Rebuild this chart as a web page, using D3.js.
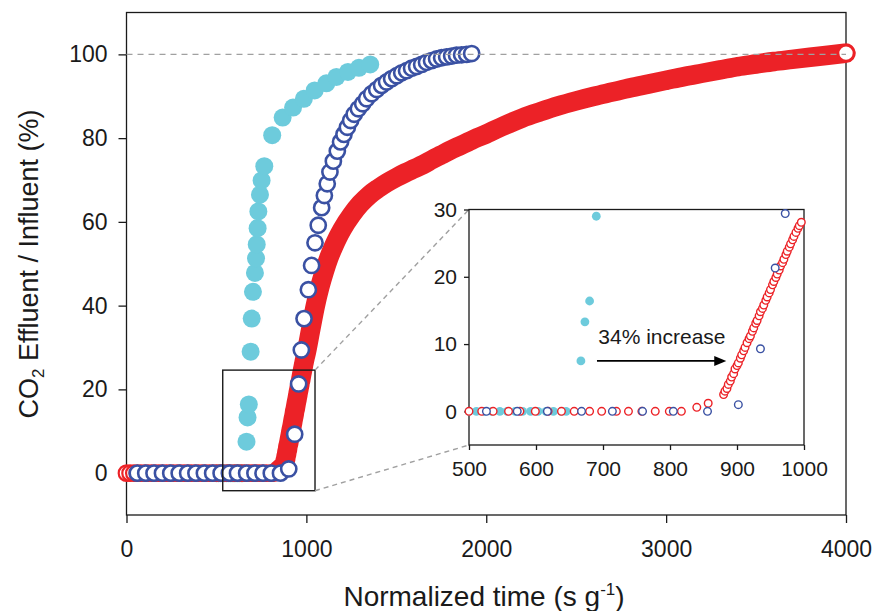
<!DOCTYPE html>
<html>
<head>
<meta charset="utf-8">
<script src="https://cdn.jsdelivr.net/npm/d3@7"></script>
<style>
  body { margin: 0; background: #fff; }
</style>
</head>
<body>
<svg id="chart" width="875" height="611"></svg>
<script>
// CO2 breakthrough curves
// x = normalized time (s g-1), y = effluent / influent (%)
var cyanX = [500, 511, 523, 534, 546, 557, 569, 580, 592, 603, 615, 626, 638, 645,
             667, 673, 680, 690, 696, 703, 714, 720, 724, 729, 733, 742, 751, 766,
             810, 868, 926, 986, 1046, 1111, 1167, 1231, 1292, 1355];
var cyanY = [0, 0, 0, 0, 0, 0, 0, 0, 0, 0, 0, 0, 0, 0,
             7.5, 13.3, 16.4, 29.0, 36.9, 43.3, 47.8, 51.3, 54.6, 58.5, 62.5, 66.5, 69.9, 73.3,
             80.7, 84.9, 87.3, 89.4, 91.4, 93.1, 94.6, 95.8, 96.8, 97.6];

var blueX = [60, 107, 153, 200, 246, 293, 340, 386, 433, 479, 526, 572, 617, 668, 714, 759, 805, 856,
             902, 935, 957, 972, 987, 1011, 1029, 1048, 1066, 1085, 1100, 1116, 1131, 1150, 1172, 1190,
             1209, 1228, 1246, 1266, 1289, 1313, 1335, 1363, 1391, 1418, 1446, 1474, 1502, 1530, 1557,
             1585, 1613, 1641, 1668, 1696, 1724, 1752, 1780, 1808, 1835, 1863, 1891, 1919];
var blueY = [0, 0, 0, 0, 0, 0, 0, 0, 0, 0, 0, 0, 0, 0, 0, 0, 0, 0,
             1.0, 9.3, 21.3, 29.4, 36.9, 43.8, 49.6, 55.0, 59.2, 63.4, 66.3, 69.1, 71.9, 74.5, 76.9, 79.1,
             80.9, 82.6, 84.2, 85.7, 87.0, 88.2, 89.4, 90.6, 91.6, 92.6, 93.4, 94.2, 94.9, 95.6, 96.1,
             96.7, 97.1, 97.6, 98.1, 98.5, 98.9, 99.2, 99.4, 99.6, 99.8, 99.9, 100.0, 100.2];

var redX = [0, 20, 41, 60, 80, 101, 120, 140, 161, 180, 200, 221, 240, 260, 281, 300, 320, 341, 360, 380,
            400, 420, 440, 460, 480, 500, 519, 536, 559, 576, 599, 618, 638, 657, 680, 698, 720, 738, 758,
            778, 799, 817, 840, 857,
            880, 882, 885, 887, 890, 892, 895, 897, 900, 902, 905, 907, 910, 912, 915, 918, 920, 923, 925,
            928, 930, 933, 935, 938, 940, 943, 945, 948, 950, 953, 955, 958, 960, 963, 965, 968, 970, 973,
            975, 978, 980, 983, 985, 988, 991, 993, 996,
            1025, 1050, 1075, 1100, 1125, 1150, 1175, 1200, 1250, 1300, 1350, 1400, 1450, 1500, 1550, 1600,
            1650, 1700, 1750, 1800, 1850, 1900, 1950, 2000, 2100, 2200, 2300, 2400, 2500, 2600, 2700, 2800,
            2900, 3000, 3100, 3200, 3300, 3400, 3500, 3600, 3700, 3800, 3900, 4000];
var redY = [0, 0, 0, 0, 0, 0, 0, 0, 0, 0, 0, 0, 0, 0, 0, 0, 0, 0, 0, 0,
            0, 0, 0, 0, 0, 0, 0, 0, 0, 0, 0, 0, 0, 0, 0, 0, 0, 0, 0,
            0, 0, 0, 0.6, 1.2,
            2.5, 3.0, 3.4, 4.0, 4.5, 5.1, 5.6, 6.3, 6.8, 7.2, 7.9, 8.4, 9.0, 9.5, 10.2, 10.8, 11.2, 11.9, 12.4,
            13.1, 13.5, 14.2, 14.8, 15.3, 15.8, 16.5, 17.0, 17.6, 18.1, 18.8, 19.3, 19.9, 20.4, 21.0, 21.6, 22.1, 22.6, 23.3,
            23.8, 24.4, 24.9, 25.5, 26.0, 26.6, 27.2, 27.6, 28.1,
            34.5, 40.0, 44.5, 48.2, 51.4, 54.0, 56.3, 58.3, 61.6, 64.3, 66.4, 68.0, 69.4, 70.6, 71.7, 72.7,
            73.7, 74.9, 76.0, 77.1, 78.1, 79.1, 80.1, 81.0, 83.0, 84.8, 86.3, 87.7, 88.9, 90.0, 91.0, 92.0,
            92.9, 93.8, 94.7, 95.5, 96.3, 97.1, 97.7, 98.3, 98.8, 99.3, 99.8, 100.3];

var xTicks = [0, 1000, 2000, 3000, 4000];
var yTicks = [0, 20, 40, 60, 80, 100];
var insetXTicks = [500, 600, 700, 800, 900, 1000];
var insetYTicks = [0, 10, 20, 30];
var zoomBox = [535, 1048, -4.2, 24.6];   // x0, x1, y0, y1 of the boxed region
var arrowX = [691, 884], arrowY = 7.5;

var font = "'Liberation Sans', Arial, Helvetica, sans-serif";
var RED = "#ec2227", BLUE = "#3a51a3", CYAN = "#6dcbdc", GREY = "#a0a0a0", INK = "#1a1a1a";

var svg = d3.select("#chart");

var x = d3.scaleLinear().domain([0, 4000]).range([126.5, 846]);
var y = d3.scaleLinear().domain([-10, 110]).range([515, 12.5]);
var ix = d3.scaleLinear().domain([500, 1000]).range([469, 804]);
var iy = d3.scaleLinear().domain([-5, 30]).range([445, 209.5]);

function pts(xs, ys) {
    return xs.map(function (d, i) { return { x: d, y: ys[i] }; });
}
var cyan = pts(cyanX, cyanY), blue = pts(blueX, blueY), red = pts(redX, redY);

function styleAxis(g, size) {
    g.select(".domain").remove();
    g.selectAll(".tick line").attr("stroke", INK).attr("stroke-width", 1.3);
    g.selectAll(".tick text")
        .attr("fill", INK)
        .style("font-family", font)
        .style("font-size", size + "px");
}

// ---------- main plot ----------
svg.append("rect")
    .attr("x", x.range()[0]).attr("y", y.range()[1])
    .attr("width", x.range()[1] - x.range()[0])
    .attr("height", y.range()[0] - y.range()[1])
    .attr("fill", "none").attr("stroke", INK).attr("stroke-width", 1.3);

svg.append("g")
    .attr("transform", "translate(" + x.range()[0] + ",0)")
    .call(d3.axisLeft(y).tickValues(yTicks).tickFormat(d3.format("d")).tickSize(8).tickPadding(11))
    .call(styleAxis, 23);

svg.append("g")
    .attr("transform", "translate(0," + y.range()[0] + ")")
    .call(d3.axisBottom(x).tickValues(xTicks).tickFormat(d3.format("d")).tickSize(8).tickPadding(18))
    .call(styleAxis, 23);

svg.append("g").selectAll("circle").data(cyan).enter().append("circle")
    .attr("cx", function (d) { return x(d.x); })
    .attr("cy", function (d) { return y(d.y); })
    .attr("r", 9)
    .attr("fill", CYAN);

svg.append("g").selectAll("circle").data(red).enter().append("circle")
    .attr("cx", function (d) { return x(d.x); })
    .attr("cy", function (d) { return y(d.y); })
    .attr("r", 7.8)
    .attr("fill", "#fff").attr("stroke", RED).attr("stroke-width", 2.2);

// the rising red points overlap into a solid band
svg.append("path")
    .datum(red.filter(function (d) { return d.y > 0; }))
    .attr("d", d3.line()
        .x(function (d) { return x(d.x); })
        .y(function (d) { return y(d.y); })
        .curve(d3.curveMonotoneX))
    .attr("fill", "none").attr("stroke", RED)
    .attr("stroke-width", 19.5)
    .attr("stroke-linecap", "round").attr("stroke-linejoin", "round");

svg.append("circle").datum(red[red.length - 1])
    .attr("cx", function (d) { return x(d.x); })
    .attr("cy", function (d) { return y(d.y); })
    .attr("r", 7.8)
    .attr("fill", "#fff").attr("stroke", RED).attr("stroke-width", 2.2);

svg.append("g").selectAll("circle").data(blue).enter().append("circle")
    .attr("cx", function (d) { return x(d.x); })
    .attr("cy", function (d) { return y(d.y); })
    .attr("r", 7.6)
    .attr("fill", "#fff").attr("stroke", BLUE).attr("stroke-width", 2.6);

svg.append("line")
    .attr("x1", x(0)).attr("x2", x(4000))
    .attr("y1", y(100)).attr("y2", y(100))
    .attr("stroke", GREY).attr("stroke-width", 1.4).attr("stroke-dasharray", "6,5");

// zoom box and connectors
svg.append("rect")
    .attr("x", x(zoomBox[0])).attr("y", y(zoomBox[3]))
    .attr("width", x(zoomBox[1]) - x(zoomBox[0]))
    .attr("height", y(zoomBox[2]) - y(zoomBox[3]))
    .attr("fill", "none").attr("stroke", INK).attr("stroke-width", 1.4);

svg.append("line")
    .attr("x1", x(zoomBox[1])).attr("y1", y(zoomBox[3]))
    .attr("x2", ix(500)).attr("y2", iy(30))
    .attr("stroke", GREY).attr("stroke-width", 1.4).attr("stroke-dasharray", "5,4");
svg.append("line")
    .attr("x1", x(zoomBox[1])).attr("y1", y(zoomBox[2]))
    .attr("x2", ix(500)).attr("y2", iy(-5))
    .attr("stroke", GREY).attr("stroke-width", 1.4).attr("stroke-dasharray", "5,4");

// ---------- inset ----------
var inset = svg.append("g");

inset.append("rect")
    .attr("x", ix.range()[0]).attr("y", iy.range()[1])
    .attr("width", ix.range()[1] - ix.range()[0])
    .attr("height", iy.range()[0] - iy.range()[1])
    .attr("fill", "none").attr("stroke", INK).attr("stroke-width", 1.3);

inset.append("g")
    .attr("transform", "translate(" + ix.range()[0] + ",0)")
    .call(d3.axisLeft(iy).tickValues(insetYTicks).tickFormat(d3.format("d")).tickSize(5).tickPadding(7))
    .call(styleAxis, 21);

inset.append("g")
    .attr("transform", "translate(0," + iy.range()[0] + ")")
    .call(d3.axisBottom(ix).tickValues(insetXTicks).tickFormat(d3.format("d")).tickSize(5).tickPadding(11))
    .call(styleAxis, 21);

function inView(d) { return d.x >= 495 && d.x <= 1000 && d.y <= 30.5; }

inset.append("g").selectAll("circle").data(cyan.filter(inView)).enter().append("circle")
    .attr("cx", function (d) { return ix(d.x); })
    .attr("cy", function (d) { return iy(d.y); })
    .attr("r", 4.4)
    .attr("fill", CYAN);

inset.append("g").selectAll("circle").data(red.filter(inView)).enter().append("circle")
    .attr("cx", function (d) { return ix(d.x); })
    .attr("cy", function (d) { return iy(d.y); })
    .attr("r", 3.8)
    .attr("fill", "#fff").attr("stroke", RED).attr("stroke-width", 1.4);

inset.append("g").selectAll("circle").data(blue.filter(inView)).enter().append("circle")
    .attr("cx", function (d) { return ix(d.x); })
    .attr("cy", function (d) { return iy(d.y); })
    .attr("r", 3.8)
    .attr("fill", "#fff").attr("stroke", BLUE).attr("stroke-width", 1.4);

// annotation arrow
var tipX = ix(arrowX[1]), tipY = iy(arrowY);
inset.append("line")
    .attr("x1", ix(arrowX[0])).attr("x2", tipX - 8)
    .attr("y1", tipY).attr("y2", tipY)
    .attr("stroke", "#000").attr("stroke-width", 1.6);
inset.append("path")
    .attr("d", "M" + tipX + "," + tipY + " L" + (tipX - 12) + "," + (tipY - 5) +
               " L" + (tipX - 12) + "," + (tipY + 5) + " Z")
    .attr("fill", "#000");

inset.append("text")
    .attr("x", ix(693)).attr("y", iy(10))
    .style("font-family", font).style("font-size", "21px")
    .attr("fill", INK)
    .text("34% increase");

// ---------- titles ----------
var yTitle = svg.append("text")
    .attr("transform", "translate(38,264) rotate(-90)")
    .attr("text-anchor", "middle")
    .style("font-family", font).style("font-size", "27px")
    .attr("fill", INK);
yTitle.append("tspan").text("CO");
yTitle.append("tspan").attr("dy", 6).style("font-size", "17px").text("2");
yTitle.append("tspan").attr("dy", -6).text(" Effluent / Influent (%)");

var xTitle = svg.append("text")
    .attr("x", 484).attr("y", 606)
    .attr("text-anchor", "middle")
    .style("font-family", font).style("font-size", "28px")
    .attr("fill", INK);
xTitle.append("tspan").text("Normalized time (s g");
xTitle.append("tspan").attr("dy", -11).style("font-size", "17px").text("-1");
xTitle.append("tspan").attr("dy", 11).text(")");
</script>
</body>
</html>
